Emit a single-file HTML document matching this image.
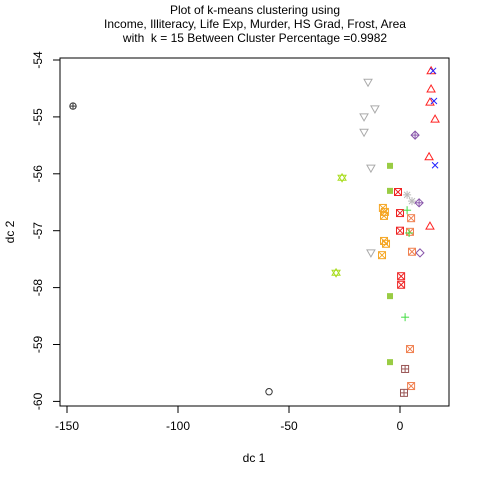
<!DOCTYPE html>
<html><head><meta charset="utf-8"><style>body{margin:0;background:#fff}svg{font-family:"Liberation Sans",sans-serif}</style></head>
<body>
<svg id="c" width="480" height="480">
<text x="255" y="14" font-size="12" text-anchor="middle">Plot of k-means clustering using</text>
<text x="255" y="28" font-size="12" text-anchor="middle">Income, Illiteracy, Life Exp, Murder, HS Grad, Frost, Area</text>
<text x="255" y="42" font-size="12" text-anchor="middle" style="white-space:pre">with  k = 15 Between Cluster Percentage =0.9982</text>
<rect x="60" y="58" width="389" height="348" fill="none" stroke="#000"/>
<text x="254" y="462" font-size="12" text-anchor="middle">dc 1</text>
<text x="14" y="232" font-size="12" text-anchor="middle" transform="rotate(-90 14 232)">dc 2</text>
<g id="ax"></g><g id="pts"></g>
</svg>
<script>
const xTicks=[-150,-100,-50,0];
const yTicks=[-54,-55,-56,-57,-58,-59,-60];
const triX=[14.0,14.0,13.5,15.8,13.1,13.5], triY=[-54.19,-54.51,-54.74,-55.04,-55.70,-56.92];
const crossX=[14.9,15.3,15.8], crossY=[-54.19,-54.72,-55.85];
const downX=[-14.4,-11.3,-16.2,-16.2,-13.1,-13.1], downY=[-54.39,-54.86,-55.0,-55.27,-55.90,-57.39];
const dplusX=[6.8,8.6], dplusY=[-55.32,-56.51];
const diaX=[9.0], diaY=[-57.39];
const gsqX=[-4.5,-4.5,-4.5,-4.5], gsqY=[-55.86,-56.30,-58.15,-59.31];
const rsqX=[-0.9,0,0,0.5,0.5], rsqY=[-56.32,-56.69,-57.0,-57.80,-57.95];
const astX=[3.2,5.4], astY=[-56.37,-56.48];
const orX=[-7.7,-6.8,-7.2,-7.2,-6.3,-8.1], orY=[-56.60,-56.67,-56.74,-57.18,-57.23,-57.43];
const salX=[5.0,4.5,5.4,4.5,5.0], salY=[-56.78,-57.02,-57.37,-59.08,-59.73];
const plX=[3.2,4.1,2.3], plY=[-56.64,-57.04,-58.52];
const brX=[2.3,1.8], brY=[-59.43,-59.85];
const starX=[-26.1,-28.8], starY=[-56.07,-57.74];
const cpX=[-147.3], cpY=[-54.81];
const ciX=[-59.0], ciY=[-59.83];
const X=v=>400+v*2.22, Y=v=>60+(-54-v)*56.9;
const NS="http://www.w3.org/2000/svg";
const ax=document.getElementById('ax'), pts=document.getElementById('pts');
function mk(p,tag,a){const e=document.createElementNS(NS,tag);for(const k in a)e.setAttribute(k,a[k]);p.appendChild(e);return e;}
mk(ax,'line',{x1:X(-150),x2:X(0),y1:406,y2:406,stroke:'#000'});
xTicks.forEach(t=>{mk(ax,'line',{x1:X(t),x2:X(t),y1:406,y2:413,stroke:'#000'});
const e=mk(ax,'text',{x:X(t),y:430,'font-size':12,'text-anchor':'middle'});e.textContent=t;

});
mk(ax,'line',{x1:60,x2:60,y1:Y(-54),y2:Y(-60),stroke:'#000'});
yTicks.forEach(t=>{mk(ax,'line',{x1:53,x2:60,y1:Y(t),y2:Y(t),stroke:'#000'});
const e=mk(ax,'text',{x:42,y:Y(t),'font-size':12,'text-anchor':'middle',transform:`rotate(-90 42 ${Y(t)})`});e.textContent=t;

});
function sym(x,y,type,col){const g=mk(pts,'g',{stroke:col,fill:'none','stroke-width':1});


const r=4;
if(type==='tri')mk(g,'polygon',{points:`${x},${y-r} ${x-r},${y+r-1} ${x+r},${y+r-1}`});
if(type==='down')mk(g,'polygon',{points:`${x},${y+r} ${x-r},${y-r+1} ${x+r},${y-r+1}`});
if(type==='x'){mk(g,'line',{x1:x-3,y1:y-3,x2:x+3,y2:y+3});mk(g,'line',{x1:x-3,y1:y+3,x2:x+3,y2:y-3});}
if(type==='plus'){mk(g,'line',{x1:x-4,y1:y,x2:x+4,y2:y});mk(g,'line',{x1:x,y1:y-4,x2:x,y2:y+4});}
if(type==='dia'||type==='dplus'){mk(g,'polygon',{points:`${x},${y-4} ${x+4},${y} ${x},${y+4} ${x-4},${y}`});
if(type==='dplus'){mk(g,'line',{x1:x-4,y1:y,x2:x+4,y2:y});mk(g,'line',{x1:x,y1:y-4,x2:x,y2:y+4});}}
if(type==='gsq')mk(g,'rect',{x:x-3,y:y-3,width:6,height:6,fill:col,stroke:'none'});
if(type==='sqx'||type==='sqp'){mk(g,'rect',{x:x-3.5,y:y-3.5,width:7,height:7});
if(type==='sqx'){mk(g,'line',{x1:x-3,y1:y-3,x2:x+3,y2:y+3});mk(g,'line',{x1:x-3,y1:y+3,x2:x+3,y2:y-3});}
else{mk(g,'line',{x1:x-3.5,y1:y,x2:x+3.5,y2:y});mk(g,'line',{x1:x,y1:y-3.5,x2:x,y2:y+3.5});}}
if(type==='ast'){mk(g,'line',{x1:x-4,y1:y,x2:x+4,y2:y});mk(g,'line',{x1:x,y1:y-4,x2:x,y2:y+4});mk(g,'line',{x1:x-3,y1:y-3,x2:x+3,y2:y+3});mk(g,'line',{x1:x-3,y1:y+3,x2:x+3,y2:y-3});}
if(type==='star'){mk(g,'polygon',{points:`${x},${y-4} ${x-4},${y+2.5} ${x+4},${y+2.5}`});mk(g,'polygon',{points:`${x},${y+4} ${x-4},${y-2.5} ${x+4},${y-2.5}`});}
if(type==='ci'||type==='cp'){mk(g,'circle',{cx:x,cy:y,r:3.2});
if(type==='cp'){mk(g,'line',{x1:x-3.2,y1:y,x2:x+3.2,y2:y});mk(g,'line',{x1:x,y1:y-3.2,x2:x,y2:y+3.2});}}
}
const series=[[triX,triY,'tri','#ff2222'],[crossX,crossY,'x','#2222ff'],[downX,downY,'down','#aaaaaa'],
[dplusX,dplusY,'dplus','#8855aa'],[diaX,diaY,'dia','#8855aa'],[gsqX,gsqY,'gsq','#99cc44'],
[rsqX,rsqY,'sqx','#ee2222'],[astX,astY,'ast','#bbbbbb'],[orX,orY,'sqx','#f5a623'],
[salX,salY,'sqx','#f08050'],[plX,plY,'plus','#44dd44'],[brX,brY,'sqp','#995555'],
[starX,starY,'star','#aadd22'],[cpX,cpY,'cp','#333333'],[ciX,ciY,'ci','#333333']];
series.forEach(([xs,ys,t,c])=>xs.forEach((v,i)=>sym(X(v),Y(ys[i]),t,c)));
</script>
</body></html>
